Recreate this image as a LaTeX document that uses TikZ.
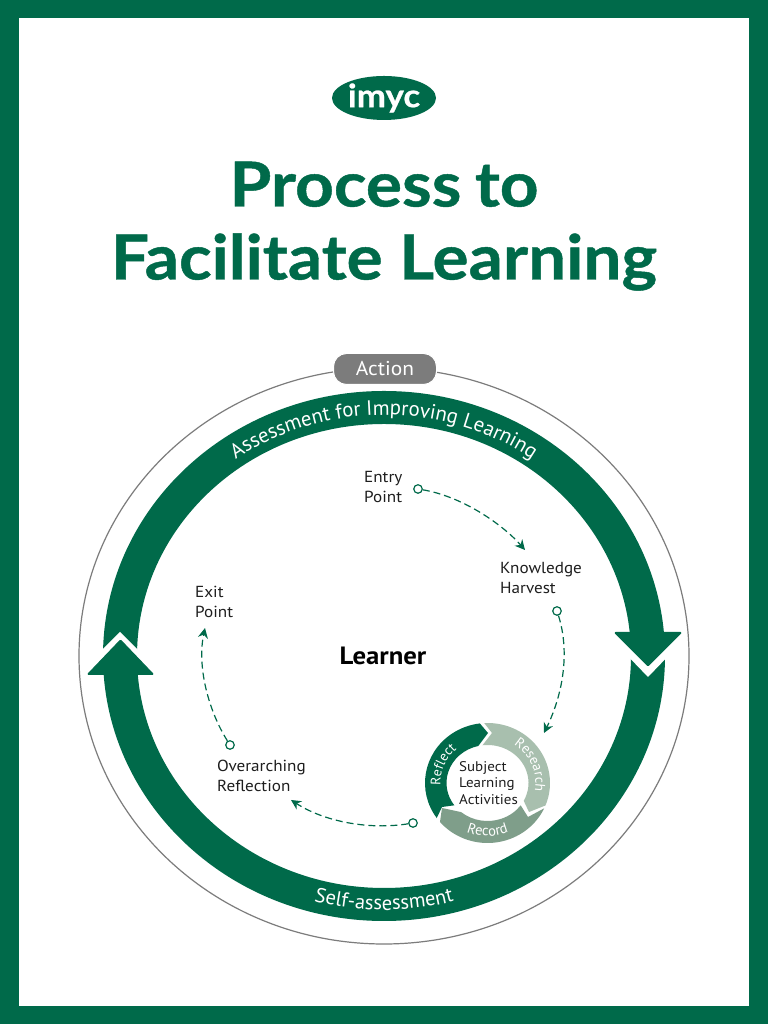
\documentclass[tikz,border=0pt]{standalone}
\usepackage{fontspec}
\setmainfont{PT Sans}[FakeStretch=1.07]
\newfontfamily\arcfont{PT Sans}
\newfontfamily\titlefont{Lato}[BoldFeatures={FakeStretch=1.09,FakeBold=0.7}]
\usetikzlibrary{decorations.text,arrows.meta,shapes.geometric,calc}
\definecolor{imgreen}{HTML}{006A4A}
\definecolor{imlight}{HTML}{A8BFAE}
\definecolor{immid}{HTML}{7F9E8A}
\definecolor{imgray}{HTML}{7C7C7C}
\definecolor{iminkc}{HTML}{1E1E1E}
\tikzset{
  x=1pt,y=1pt,
  label text/.style={anchor=north west,inner sep=0pt,align=left,text=iminkc,font=\fontsize{16}{20}\selectfont},
  small text/.style={anchor=north west,inner sep=0pt,align=left,text=iminkc,font=\fontsize{14}{16.5}\selectfont},
  title text/.style={inner sep=0pt,anchor=base,text=imgreen,font=\titlefont\bfseries\fontsize{62}{62}\selectfont},
  start dot/.style={circle,draw=imgreen,fill=white,line width=1.2pt,minimum size=8.5pt,inner sep=0pt},
  flow/.style={draw=imgreen,line width=1.2pt,dash pattern=on 7pt off 4pt,-{Stealth[length=10pt,width=10pt]}},
  arrow head/.style={fill=imgreen,draw=imgreen,line width=1pt,line join=round,rounded corners=1pt},
}
\begin{document}
\begin{tikzpicture}
\useasboundingbox (0,0) rectangle (768,1024);
\fill[imgreen] (0,0) rectangle (768,1024);
\fill[white] (19,18) rectangle (749,1006);
\coordinate (bigC) at (384,368);
\coordinate (ringC) at (487.5,241);

% logo and title
\node[ellipse,fill=imgreen,minimum width=104pt,minimum height=44pt,inner sep=0pt,text=white,font=\titlefont\fontsize{32}{32}\selectfont\bfseries] (logo) at (384,926) {imyc};
\node[title text] (title1) at (384,817.5) {Process\hspace{-3pt} to};
\node[title text] (title2) at (384,744.5) {Facilitate Learning};

% outer thin ellipse
\draw[imgray,line width=1.2pt] (bigC) ellipse [x radius=305,y radius=288];
\node[rounded corners=13pt,fill=imgray,draw=white,line width=1pt,minimum width=103pt,minimum height=31pt,inner sep=0pt,text=white,font=\fontsize{20}{20}\selectfont] (action) at (385,655) {Action};

% main ring
\fill[imgreen,even odd rule] (bigC) ellipse [x radius=281,y radius=265] (bigC) ellipse [x radius=247,y radius=232];
\fill[white] (622,384) -- (674,384) -- (674,374) -- (648,347) -- (622,374) -- cycle;
\fill[white] (120,392) -- (150,362) -- (150,357) -- (90,357) -- (90,362) -- cycle;
\path[arrow head] (614.5,391.5) -- (681.5,391.5) -- (648,358) -- cycle;
\path[arrow head] (87.5,349.5) -- (153.5,349.5) -- (120.5,384) -- cycle;

\path[decorate,decoration={text along path,text align=center,text={|\arcfont\fontsize{20.8}{20}\selectfont\color{white}|Assessment for Improving Learning}}]
  ($(bigC)+(152:257pt and 241pt)$) arc[start angle=152,end angle=28,x radius=257,y radius=241];
\path[decorate,decoration={text along path,text align=center,text={|\arcfont\fontsize{20.5}{20}\selectfont\color{white}|Self-assessment}}]
  ($(bigC)+(240:270pt and 254pt)$) arc[start angle=240,end angle=300,x radius=270,y radius=254];

% small ring
\fill[imgreen] ($(ringC)+(215.7:62.5pt and 60pt)$) arc[start angle=215.7,end angle=97,x radius=62.5,y radius=60]
  -- (488,291) -- ($(ringC)+(103:41pt and 38pt)$) arc[start angle=103,end angle=216,x radius=41,y radius=38] -- (442,217) -- cycle;
\fill[imlight] ($(ringC)+(93:62.5pt and 60pt)$) arc[start angle=93,end angle=-22,x radius=62.5,y radius=60]
  -- (529,212) -- ($(ringC)+(-28:41pt and 38pt)$) arc[start angle=-28,end angle=97,x radius=41,y radius=38] -- (492,291) -- cycle;
\fill[immid] ($(ringC)+(-25:62.5pt and 60pt)$) arc[start angle=-25,end angle=-139.5,x radius=62.5,y radius=60]
  -- (442,216) -- ($(ringC)+(-130:41pt and 38pt)$) arc[start angle=-130,end angle=-36,x radius=41,y radius=38] -- (528,207) -- cycle;

\path[decorate,decoration={text along path,text align=center,text={|\arcfont\fontsize{13.8}{13}\selectfont\color{white}|Reflect}}]
  ($(ringC)+(215:47pt and 45pt)$) arc[start angle=215,end angle=100,x radius=47,y radius=45];
\path[decorate,decoration={text along path,text align=center,text={|\arcfont\fontsize{14}{13}\selectfont\color{white}|Research}}]
  ($(ringC)+(81:48pt and 46pt)$) arc[start angle=81,end angle=-35,x radius=48,y radius=46];
\path[decorate,decoration={text along path,text align=center,text={|\arcfont\fontsize{14.5}{13}\selectfont\color{white}|Record}}]
  ($(ringC)+(-135:55pt and 53pt)$) arc[start angle=-135,end angle=-45,x radius=55,y radius=53];

% labels
\node[font=\bfseries\fontsize{25}{25}\selectfont,inner sep=0pt,text=black] (learner) at (383,368) {Learner};
\node[label text] (entry) at (364,553) {Entry\\Point};
\node[label text] (knowledge) at (500,462) {Knowledge\\Harvest};
\node[label text] (overarching) at (217,264) {Overarching\\Reflection};
\node[label text] (exit) at (195,438) {Exit\\Point};
\node[small text] (subject) at (459,263) {Subject\\Learning\\Activities};

% connectors
\node[start dot] (d1) at (418,535) {};
\coordinate (e1) at (525,474);
\node[start dot] (d2) at (557,413) {};
\coordinate (e2) at (544,291);
\node[start dot] (d3) at (413,201) {};
\coordinate (e3) at (291,224);
\node[start dot] (d4) at (230,279) {};
\coordinate (e4) at (205,396);
\draw[flow] (d1) .. controls (465,527) and (505,497) .. (e1);
\draw[flow] (d2) .. controls (570,372) and (563,330) .. (e2);
\draw[flow] (d3) .. controls (370,194) and (325,202) .. (e3);
\draw[flow] (d4) .. controls (208,314) and (197,358) .. (e4);
\end{tikzpicture}
\end{document}
